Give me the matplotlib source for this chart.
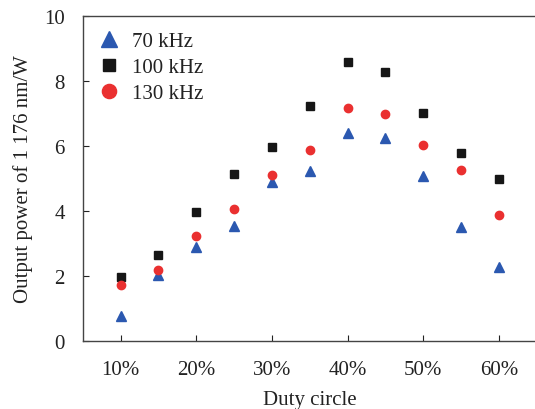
import numpy as np
import matplotlib
matplotlib.use('Agg')
import matplotlib.pyplot as plt

plt.rcParams['font.family'] = ['Liberation Serif', 'DejaVu Serif']

duty = [10, 15, 20, 25, 30, 35, 40, 45, 50, 55, 60]
p70 = [0.77, 2.02, 2.90, 3.54, 4.88, 5.24, 6.40, 6.24, 5.09, 3.52, 2.28]
p100 = [1.95, 2.65, 3.98, 5.14, 5.98, 7.23, 8.59, 8.28, 7.02, 5.78, 4.98]
p130 = [1.72, 2.19, 3.23, 4.06, 5.12, 5.88, 7.18, 7.00, 6.04, 5.26, 3.86]
xticks = [10, 20, 30, 40, 50, 60]
xtick_labels = ['10%', '20%', '30%', '40%', '50%', '60%']
yticks = [0, 2, 4, 6, 8, 10]

fig = plt.figure(figsize=(5.35, 4.10), dpi=100)
W, H = 535, 410
ax = fig.add_axes([82.7 / W, 1 - 341.7 / H, (536.7 - 82.7) / W, (341.7 - 17.3) / H])

ax.plot(duty, p70, '^', color='#2b58b0', ms=7, mec='#2b58b0', label='70 kHz')
ax.plot(duty, p100, 's', color='#161616', ms=5.5, mec='#161616', label='100 kHz')
ax.plot(duty, p130, 'o', color='#ea3030', ms=6, mec='#ea3030', label='130 kHz')

ax.set_xlim(5, 65)
ax.set_ylim(0, 10)
ax.set_xticks(xticks)
ax.set_xticklabels(xtick_labels)
ax.set_yticks(yticks)
ax.tick_params(direction='in', length=4, labelsize=15, colors='#222222')
ax.tick_params(axis='y', pad=13)
ax.tick_params(axis='x', pad=14)
ax.spines['right'].set_visible(False)
for s in ['left', 'bottom', 'top']:
    ax.spines[s].set_color('#444444')
    ax.spines[s].set_linewidth(1.0)

ax.set_xlabel('Duty circle', fontsize=15, color='#222222', labelpad=8)
ax.set_ylabel('Output power of 1 176 nm/W', fontsize=15, color='#222222', labelpad=8)

leg = ax.legend(loc='upper left', bbox_to_anchor=(0.013, 0.972), frameon=False,
                fontsize=15, markerscale=1.7, handletextpad=0.4, labelspacing=0.3,
                borderaxespad=0, handlelength=1.4, borderpad=0.3)
for t in leg.get_texts():
    t.set_color('#222222')

fig.savefig('out.png', dpi=100)
